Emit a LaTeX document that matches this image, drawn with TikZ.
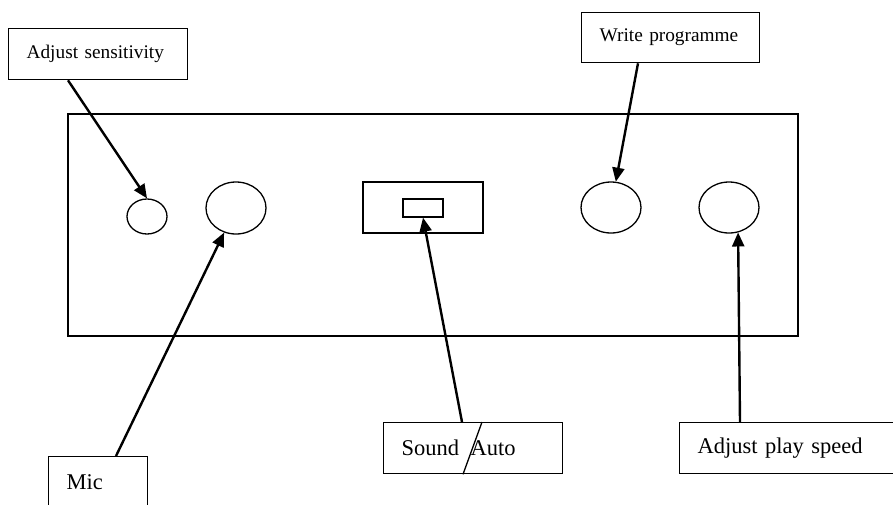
\documentclass[tikz,border=0pt]{standalone}
\usepackage{fontspec}
\setmainfont{Liberation Serif}
\usepackage{tikz}
\usetikzlibrary{positioning,arrows.meta,shapes.geometric}
\tikzset{
  lblbox/.style={draw, line width=1.3pt, anchor=north west, inner xsep=18pt,
                 inner ysep=0pt, align=left},
  toplbl/.style={lblbox, font=\fontsize{19.3}{23}\selectfont},
  botlbl/.style={lblbox, font=\fontsize{22.5}{26}\selectfont},
  panelbox/.style={draw, line width=1.3pt, inner sep=0pt},
  knob/.style={draw, ellipse, line width=1.3pt, inner sep=0pt},
  ptrarrow/.style={-{Triangle[length=14pt, width=12pt]}, line width=2.4pt},
}
\begin{document}
\begin{tikzpicture}[x=1pt, y=-1pt]
\useasboundingbox (0,0) rectangle (893,504);
%% Panel
\node[panelbox, minimum width=730pt, minimum height=222pt] (panel) at (433,225) {};
\node[knob, minimum width=40pt, minimum height=35pt] (ksens) at (147,216.5) {};
\node[knob, minimum width=60pt, minimum height=52pt] (kmic) at (236,208) {};
\node[panelbox, minimum width=120pt, minimum height=51pt] (sw) at (423,207.5) {};
\node[panelbox, minimum width=40pt, minimum height=18pt] (slide) at (423,208) {};
\node[knob, minimum width=60pt, minimum height=51pt] (kwrite) at (611,207.5) {};
\node[knob, minimum width=60pt, minimum height=51pt] (kspeed) at (729,207.5) {};
%% Labels
\node[toplbl, text width=143pt, minimum height=51pt] (sens) at (8,28) {Adjust sensitivity};
\node[toplbl, text width=142pt, minimum height=50pt] (write) at (581,12) {Write programme};
\node[botlbl, text width=63pt, minimum height=51pt] (mic) at (48,456) {Mic};
\node[botlbl, text width=143pt, minimum height=51pt] (snd) at (383,422) {Sound \hspace{4pt}Auto};
\node[botlbl, text width=200pt, minimum height=51pt] (spd) at (679,422) {Adjust play speed};
\draw[line width=1.3pt] ([xshift=80pt]snd.south west) -- ([xshift=99pt]snd.north west);
%% Arrows
\draw[ptrarrow] ([xshift=60pt]sens.south west) -- (ksens.north);
\draw[ptrarrow] ([xshift=57pt]write.south west) -- (kwrite);
\draw[ptrarrow] ([xshift=68pt]mic.north west) -- (kmic);
\draw[ptrarrow] ([xshift=79pt]snd.north west) -- (slide.south);
\draw[ptrarrow] ([xshift=61pt]spd.north west) -- (kspeed.-70);
\end{tikzpicture}
\end{document}
